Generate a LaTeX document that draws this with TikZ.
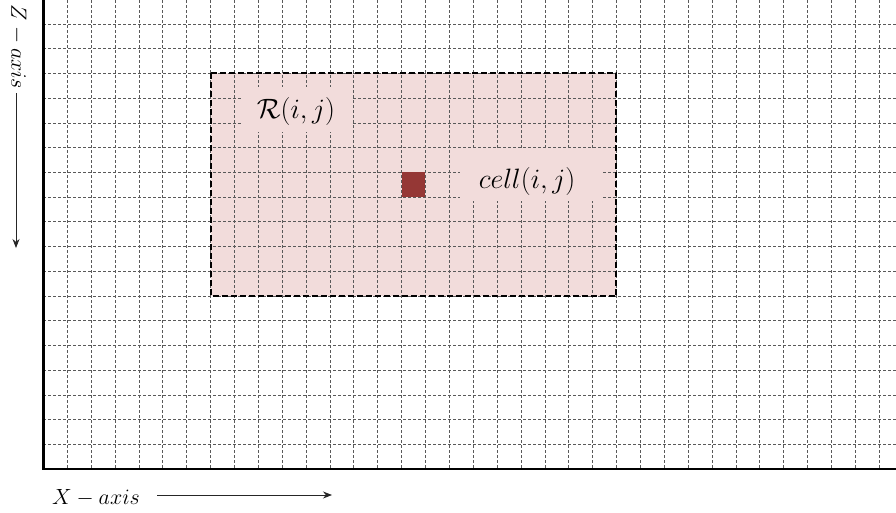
\documentclass[tikz,border=0pt]{standalone}
\usepackage{fix-cm}
\usetikzlibrary{arrows.meta}
\definecolor{regfill}{HTML}{F2DCDB}
\definecolor{cellred}{HTML}{953735}
\begin{document}
\begin{tikzpicture}[x=1pt,y=-1pt,
  gridline/.style={draw=black!65, line width=0.55pt, dash pattern=on 3pt off 2pt},
  axisline/.style={draw=black, line width=2.4pt},
  regionborder/.style={draw=black, line width=2pt, dash pattern=on 6pt off 3pt},
  coverbox/.style={fill=regfill, draw=none},
  lbl/.style={inner sep=0pt, font=\fontsize{28}{32}\selectfont},
  axlbl/.style={inner sep=0pt, font=\fontsize{22}{26}\selectfont},
  axarrow/.style={draw=black!85, line width=0.8pt, -{Stealth[length=9pt,width=7pt]}}]
\useasboundingbox (0,0) rectangle (896,512);
% region fill
\fill[regfill] (210.5,73.4) rectangle (616.4,296);
% grid
\foreach \k in {1,...,35} \draw[gridline] ({43.3+23.88*\k},0) -- ({43.3+23.88*\k},469);
\foreach \k in {0,...,17} \draw[gridline] (43.3,{24+24.72*\k}) -- (896,{24+24.72*\k});
% selected cell
\fill[cellred] (401.5,172.3) rectangle (425.4,197);
% region border
\draw[regionborder] (210.5,73.4) rectangle (616.4,296);
% axes
\draw[axisline] (43.3,0) -- (43.3,469) -- (896,469);
% labels
\fill[coverbox] (243,87) rectangle (352,132);
\node[lbl] (R) at (296,111) {$\mathcal{R}(i,j)$};
\fill[coverbox] (460,150) rectangle (603,201);
\node[lbl] (C) at (527,181) {$cell(i,j)$};
% axis labels
\node[axlbl, anchor=base] (X) at (96,504) {$X-axis$};
\coordinate (xs) at (157,495);
\coordinate (xe) at (332,495);
\draw[axarrow] (xs) -- (xe);
\node[axlbl, rotate=-90] (Z) at (18,47) {$Z-axis$};
\coordinate (zs) at (16,93);
\coordinate (ze) at (16,248);
\draw[axarrow] (zs) -- (ze);
\end{tikzpicture}
\end{document}
